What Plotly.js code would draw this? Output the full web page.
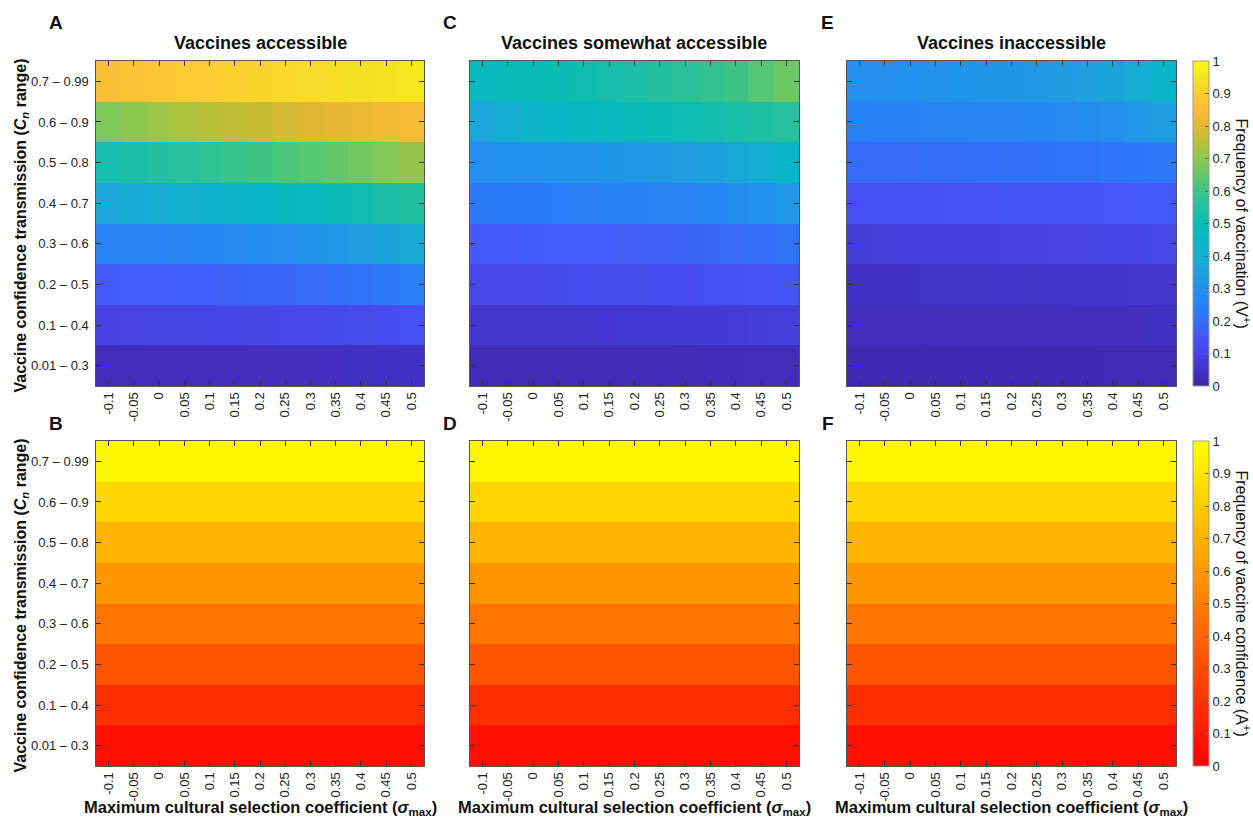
<!DOCTYPE html>
<html>
<head>
<meta charset="utf-8">
<script src="https://cdn.plot.ly/plotly-3.0.1.min.js"></script>
<style>html,body{margin:0;padding:0;background:#fff;}#chart{width:1253px;height:820px;}</style>
</head>
<body>
<div id="chart"></div>
<script>
// ---- categories / tick labels ----
const xLabels = ['-0.1','-0.05','0','0.05','0.1','0.15','0.2','0.25','0.3','0.35','0.4','0.45','0.5'];
const yLabels = ['0.01 – 0.3','0.1 – 0.4','0.2 – 0.5','0.3 – 0.6','0.4 – 0.7','0.5 – 0.8','0.6 – 0.9','0.7 – 0.99'];
const colTitles = ['Vaccines accessible','Vaccines somewhat accessible','Vaccines inaccessible'];

// ---- frequency of vaccination (rows bottom -> top) ----
const vaxAccessible = [
  [0.030,0.031,0.032,0.033,0.034,0.035,0.036,0.037,0.038,0.039,0.041,0.043,0.045],
  [0.095,0.097,0.099,0.101,0.103,0.105,0.107,0.110,0.113,0.116,0.120,0.125,0.130],
  [0.160,0.163,0.166,0.169,0.172,0.175,0.178,0.182,0.188,0.196,0.208,0.225,0.245],
  [0.255,0.258,0.262,0.266,0.270,0.275,0.282,0.290,0.300,0.315,0.335,0.355,0.380],
  [0.370,0.385,0.400,0.410,0.420,0.430,0.440,0.455,0.470,0.490,0.510,0.530,0.550],
  [0.520,0.535,0.550,0.560,0.575,0.590,0.605,0.620,0.635,0.650,0.670,0.690,0.710],
  [0.680,0.700,0.720,0.735,0.750,0.760,0.770,0.785,0.800,0.810,0.820,0.830,0.840],
  [0.860,0.870,0.880,0.890,0.900,0.910,0.920,0.925,0.930,0.940,0.945,0.950,0.960]
];
const vaxSomewhat = [
  [0.020,0.020,0.021,0.021,0.022,0.022,0.023,0.024,0.025,0.026,0.027,0.028,0.030],
  [0.060,0.061,0.062,0.063,0.064,0.065,0.066,0.068,0.070,0.073,0.076,0.080,0.085],
  [0.110,0.112,0.114,0.116,0.118,0.120,0.122,0.125,0.128,0.131,0.135,0.140,0.145],
  [0.155,0.157,0.159,0.161,0.163,0.165,0.168,0.171,0.175,0.180,0.186,0.194,0.205],
  [0.230,0.233,0.236,0.239,0.242,0.245,0.250,0.255,0.262,0.270,0.282,0.298,0.320],
  [0.290,0.293,0.296,0.300,0.305,0.310,0.317,0.325,0.335,0.350,0.370,0.400,0.440],
  [0.370,0.400,0.430,0.450,0.460,0.470,0.480,0.490,0.505,0.515,0.525,0.540,0.555],
  [0.470,0.480,0.490,0.500,0.510,0.520,0.535,0.550,0.565,0.580,0.600,0.630,0.660]
];
const vaxInaccessible = [
  [0.015,0.015,0.016,0.016,0.016,0.017,0.017,0.017,0.018,0.018,0.019,0.019,0.020],
  [0.030,0.031,0.031,0.032,0.032,0.033,0.033,0.034,0.035,0.036,0.037,0.038,0.040],
  [0.045,0.046,0.047,0.048,0.049,0.050,0.051,0.052,0.053,0.054,0.056,0.058,0.060],
  [0.080,0.082,0.084,0.086,0.088,0.090,0.092,0.094,0.096,0.099,0.102,0.106,0.110],
  [0.130,0.132,0.134,0.136,0.138,0.140,0.142,0.144,0.146,0.149,0.152,0.156,0.160],
  [0.190,0.191,0.193,0.195,0.197,0.199,0.201,0.203,0.206,0.209,0.213,0.218,0.225],
  [0.245,0.248,0.251,0.254,0.257,0.260,0.264,0.268,0.274,0.282,0.295,0.315,0.340],
  [0.290,0.294,0.298,0.302,0.306,0.310,0.316,0.323,0.332,0.345,0.365,0.400,0.440]
];

// ---- frequency of vaccine confidence (rows bottom -> top) ----
const confAccessible = [
  [0.06,0.06,0.06,0.06,0.06,0.06,0.06,0.06,0.06,0.06,0.06,0.06,0.06],
  [0.18,0.18,0.18,0.18,0.18,0.18,0.18,0.18,0.18,0.18,0.18,0.18,0.18],
  [0.33,0.33,0.33,0.33,0.33,0.33,0.33,0.33,0.33,0.33,0.33,0.33,0.33],
  [0.46,0.46,0.46,0.46,0.46,0.46,0.46,0.46,0.46,0.46,0.46,0.46,0.46],
  [0.59,0.59,0.59,0.59,0.59,0.59,0.59,0.59,0.59,0.59,0.59,0.59,0.59],
  [0.71,0.71,0.71,0.71,0.71,0.71,0.71,0.71,0.71,0.71,0.71,0.71,0.71],
  [0.84,0.84,0.84,0.84,0.84,0.84,0.84,0.84,0.84,0.84,0.84,0.84,0.84],
  [0.97,0.97,0.97,0.97,0.97,0.97,0.97,0.97,0.97,0.97,0.97,0.97,0.97]
];
const confSomewhat = [
  [0.06,0.06,0.06,0.06,0.06,0.06,0.06,0.06,0.06,0.06,0.06,0.06,0.06],
  [0.18,0.18,0.18,0.18,0.18,0.18,0.18,0.18,0.18,0.18,0.18,0.18,0.18],
  [0.33,0.33,0.33,0.33,0.33,0.33,0.33,0.33,0.33,0.33,0.33,0.33,0.33],
  [0.46,0.46,0.46,0.46,0.46,0.46,0.46,0.46,0.46,0.46,0.46,0.46,0.46],
  [0.59,0.59,0.59,0.59,0.59,0.59,0.59,0.59,0.59,0.59,0.59,0.59,0.59],
  [0.71,0.71,0.71,0.71,0.71,0.71,0.71,0.71,0.71,0.71,0.71,0.71,0.71],
  [0.84,0.84,0.84,0.84,0.84,0.84,0.84,0.84,0.84,0.84,0.84,0.84,0.84],
  [0.97,0.97,0.97,0.97,0.97,0.97,0.97,0.97,0.97,0.97,0.97,0.97,0.97]
];
const confInaccessible = [
  [0.06,0.06,0.06,0.06,0.06,0.06,0.06,0.06,0.06,0.06,0.06,0.06,0.06],
  [0.18,0.18,0.18,0.18,0.18,0.18,0.18,0.18,0.18,0.18,0.18,0.18,0.18],
  [0.33,0.33,0.33,0.33,0.33,0.33,0.33,0.33,0.33,0.33,0.33,0.33,0.33],
  [0.46,0.46,0.46,0.46,0.46,0.46,0.46,0.46,0.46,0.46,0.46,0.46,0.46],
  [0.59,0.59,0.59,0.59,0.59,0.59,0.59,0.59,0.59,0.59,0.59,0.59,0.59],
  [0.71,0.71,0.71,0.71,0.71,0.71,0.71,0.71,0.71,0.71,0.71,0.71,0.71],
  [0.84,0.84,0.84,0.84,0.84,0.84,0.84,0.84,0.84,0.84,0.84,0.84,0.84],
  [0.97,0.97,0.97,0.97,0.97,0.97,0.97,0.97,0.97,0.97,0.97,0.97,0.97]
];

// ---- colour maps ----
const parula = [
  [0.00,'rgb(62,38,168)'],[0.05,'rgb(67,50,200)'],[0.10,'rgb(71,68,230)'],[0.15,'rgb(70,86,246)'],
  [0.20,'rgb(50,112,250)'],[0.25,'rgb(40,130,246)'],[0.30,'rgb(35,146,235)'],[0.35,'rgb(30,160,222)'],
  [0.40,'rgb(20,174,210)'],[0.45,'rgb(5,182,196)'],[0.50,'rgb(10,187,180)'],[0.55,'rgb(35,192,160)'],
  [0.60,'rgb(60,196,135)'],[0.65,'rgb(100,200,105)'],[0.70,'rgb(140,200,80)'],[0.75,'rgb(185,192,55)'],
  [0.80,'rgb(225,183,50)'],[0.85,'rgb(252,188,58)'],[0.90,'rgb(252,205,48)'],[0.95,'rgb(245,226,35)'],
  [1.00,'rgb(249,251,14)']
];
const autumn = [[0,'rgb(255,0,0)'],[1,'rgb(255,255,0)']];

// ---- geometry (pixels) ----
const W = 1253, H = 820;
const px = v => v / W, py = v => 1 - v / H;
const colX = [[96,424],[470,799],[847,1176]];
const rowY = [[61,386],[441,766]];

const panels = [
  {z: vaxAccessible, r:0, c:0, cs: parula},
  {z: vaxSomewhat, r:0, c:1, cs: parula},
  {z: vaxInaccessible, r:0, c:2, cs: parula, bar: 'Frequency of vaccination (V<sup>+</sup>)'},
  {z: confAccessible, r:1, c:0, cs: autumn},
  {z: confSomewhat, r:1, c:1, cs: autumn},
  {z: confInaccessible, r:1, c:2, cs: autumn, bar: 'Frequency of vaccine confidence (A<sup>+</sup>)'}
];

const FONT = 'Arial, "Liberation Sans", Helvetica, sans-serif';
const traces = [];
const layout = {
  width: W, height: H,
  margin: {l:0, r:0, t:0, b:0},
  paper_bgcolor: '#fff', plot_bgcolor: '#fff',
  font: {family: FONT, color: '#222', size: 12},
  showlegend: false,
  annotations: []
};

panels.forEach((p, i) => {
  const n = i + 1;
  const xa = 'x' + (n === 1 ? '' : n), ya = 'y' + (n === 1 ? '' : n);
  const tr = {
    type: 'heatmap', x: xLabels, y: yLabels, z: p.z,
    xaxis: xa, yaxis: ya,
    colorscale: p.cs, zmin: 0, zmax: 1,
    showscale: !!p.bar, hoverinfo: 'x+y+z'
  };
  if (p.bar) {
    const [t, b] = rowY[p.r];
    tr.colorbar = {
      x: px(1193), xanchor: 'left', xref: 'paper', xpad: 0,
      y: py((t + b) / 2), yanchor: 'middle', ypad: 0,
      len: b - t, lenmode: 'pixels', thickness: 16, thicknessmode: 'pixels',
      outlinecolor: '#999', outlinewidth: 1,
      tick0: 0, dtick: 0.1, ticks: 'inside', ticklen: 4, tickcolor: '#666',
      tickfont: {size: 13, color: '#222', family: FONT}
    };
  }
  traces.push(tr);
  const axBase = {
    showline: true, linecolor: '#555', linewidth: 1, mirror: 'ticks',
    ticks: 'inside', ticklen: 5, tickcolor: '#333', tickwidth: 1,
    showgrid: false, zeroline: false, fixedrange: true, type: 'category',
    tickfont: {size: 13, color: '#222', family: FONT}
  };
  layout['xaxis' + (n === 1 ? '' : n)] = Object.assign({}, axBase, {
    domain: [px(colX[p.c][0]), px(colX[p.c][1])], anchor: ya,
    tickangle: -90, categoryorder: 'array', categoryarray: xLabels
  });
  layout['yaxis' + (n === 1 ? '' : n)] = Object.assign({}, axBase, {
    domain: [py(rowY[p.r][1]), py(rowY[p.r][0])], anchor: xa,
    showticklabels: p.c === 0, ticksuffix: ' ',
    categoryorder: 'array', categoryarray: yLabels
  });
});

function ann(text, x, y, size, opts) {
  layout.annotations.push(Object.assign({
    text, x: px(x), y: py(y), xref: 'paper', yref: 'paper',
    showarrow: false, xanchor: 'center', yanchor: 'middle',
    font: {size, color: '#111', family: FONT}
  }, opts || {}));
}

// panel letters
[['A',56,22],['C',450,22],['E',827,22],['B',56,423],['D',450,423],['F',828,423]]
  .forEach(([t, x, y]) => ann('<b>' + t + '</b>', x, y, 19));
// column titles
colTitles.forEach((t, c) => ann('<b>' + t + '</b>', (colX[c][0] + colX[c][1]) / 2, 43, 18));
// y titles
rowY.forEach(([t, b]) => ann('<b>Vaccine confidence transmission (<i>C</i><sub><i>n</i></sub> range)</b>', 21, (t + b) / 2 + 2, 16, {textangle: -90}));
// x titles
colX.forEach(([l, r]) => ann('<b>Maximum cultural selection coefficient (<i>σ</i><sub>max</sub>)</b>', (l + r) / 2, 808, 16.5));
// colorbar titles
panels.filter(p => p.bar).forEach(p => {
  const [t, b] = rowY[p.r];
  ann(p.bar, 1243, (t + b) / 2, 16, {textangle: 90});
});

Plotly.newPlot('chart', traces, layout, {displayModeBar: false, staticPlot: true});
</script>
</body>
</html>
